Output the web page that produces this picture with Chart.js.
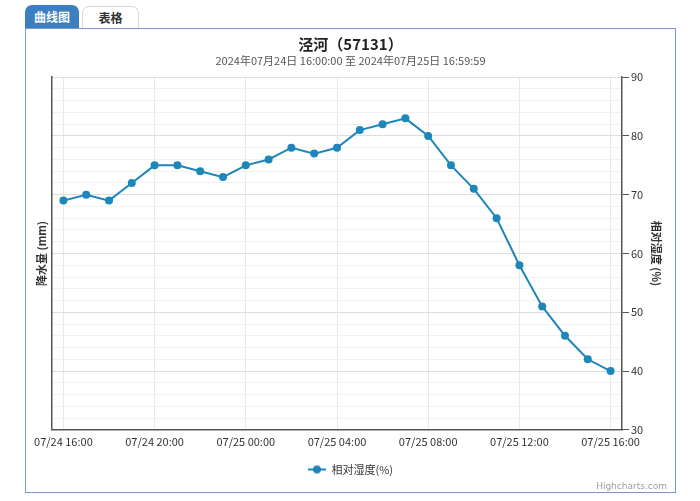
<!DOCTYPE html>
<html>
<head>
<meta charset="utf-8">
<script src="https://cdn.jsdelivr.net/npm/chart.js@4"></script>
<style>
body{margin:0;width:700px;height:501px;background:#fff;font-family:"Noto Sans CJK SC","Noto Sans",sans-serif;position:relative;overflow:hidden}
.tab{position:absolute;box-sizing:border-box;font-size:12px;font-weight:bold;text-align:center;border-radius:7px 7px 0 0}
#tab1{left:25px;top:5px;width:54px;height:24px;line-height:24px;background:#3b7fc1;color:#fff}
#tab2{left:82px;top:6px;width:57px;height:23px;line-height:22px;border:1px solid #d8d8d8;border-bottom:none;background:#fff;color:#333}
#panel{position:absolute;left:25px;top:28px;width:651px;height:465px;border:1px solid #7d97c6;box-sizing:border-box;background:#fff}
#wrap{position:absolute;left:0;top:0;width:649px;height:463px}
#credit{position:absolute;right:8px;bottom:1px;font-size:9px;color:#a0a0a0;font-family:"DejaVu Sans",sans-serif}
</style>
</head>
<body>
<div class="tab" id="tab1">曲线图</div>
<div class="tab" id="tab2">表格</div>
<div id="panel">
  <div id="wrap"><canvas id="humChart"></canvas></div>
  <div id="credit">Highcharts.com</div>
</div>
<script>
// 时间 (每小时)
const categories = [
  '07/24 16:00', '07/24 17:00', '07/24 18:00', '07/24 19:00', '07/24 20:00',
  '07/24 21:00', '07/24 22:00', '07/24 23:00', '07/25 00:00', '07/25 01:00',
  '07/25 02:00', '07/25 03:00', '07/25 04:00', '07/25 05:00', '07/25 06:00',
  '07/25 07:00', '07/25 08:00', '07/25 09:00', '07/25 10:00', '07/25 11:00',
  '07/25 12:00', '07/25 13:00', '07/25 14:00', '07/25 15:00', '07/25 16:00'
];
// 相对湿度 (%)
const humidity = [69, 70, 69, 72, 75, 75, 74, 73, 75, 76, 78, 77, 78, 81, 82, 83, 80, 75, 71, 66, 58, 51, 46, 42, 40];
const xTickLabels = ['07/24 16:00', '07/24 20:00', '07/25 00:00', '07/25 04:00', '07/25 08:00', '07/25 12:00', '07/25 16:00'];
const yTickLabels = [30, 40, 50, 60, 70, 80, 90];

const FONT = '"Noto Sans CJK SC", "Noto Sans", sans-serif';
const LINE = '#1d86ba';

// 图例图标: 线 + 圆点
const icon = document.createElement('canvas');
icon.width = 18; icon.height = 10;
const ic = icon.getContext('2d');
ic.strokeStyle = LINE; ic.lineWidth = 2;
ic.beginPath(); ic.moveTo(0, 5); ic.lineTo(18, 5); ic.stroke();
ic.fillStyle = LINE;
ic.beginPath(); ic.arc(9, 5, 4, 0, Math.PI * 2); ic.fill();

document.addEventListener('DOMContentLoaded', function() {
    const ctx = document.getElementById('humChart').getContext('2d');
    new Chart(ctx, {
        type: 'line',
        data: {
            labels: categories,
            datasets: [{
                label: '相对湿度(%)',
                data: humidity,
                yAxisID: 'y',
                borderColor: LINE,
                backgroundColor: LINE,
                borderWidth: 2,
                pointRadius: 4,
                pointBorderWidth: 0,
                tension: 0
            }]
        },
        options: {
            responsive: true,
            maintainAspectRatio: false,
            animation: false,
            layout: { padding: { left: 0, right: 0, top: 0, bottom: 7 } },
            plugins: {
                title: {
                    display: true,
                    text: '泾河（57131）',
                    color: '#222',
                    font: { family: FONT, size: 15, weight: 'bold' },
                    padding: { top: 6, bottom: 0 }
                },
                subtitle: {
                    display: true,
                    text: '2024年07月24日 16:00:00 至 2024年07月25日 16:59:59',
                    color: '#555',
                    font: { family: FONT, size: 11 },
                    padding: { top: 1, bottom: 10 }
                },
                legend: {
                    position: 'bottom',
                    labels: {
                        usePointStyle: true,
                        pointStyle: icon,
                        pointStyleWidth: 18,
                        boxHeight: 10,
                        color: '#333',
                        font: { family: FONT, size: 11 },
                        padding: 11
                    }
                }
            },
            scales: {
                x: {
                    type: 'category',
                    offset: true,
                    grid: {
                        offset: false,
                        drawTicks: false,
                        color: c => (c.index % 4 === 0 ? '#e8e8e8' : 'transparent')
                    },
                    border: { color: '#555', width: 1.5 },
                    ticks: {
                        autoSkip: false,
                        maxRotation: 0,
                        padding: 5,
                        color: '#333',
                        font: { family: FONT, size: 11 },
                        callback: function(v, i) {
                            const lab = categories[i];
                            return xTickLabels.includes(lab) ? lab : '';
                        }
                    }
                },
                yLeft: {
                    type: 'linear',
                    position: 'left',
                    min: 0,
                    max: 1,
                    ticks: { display: false },
                    grid: { drawOnChartArea: false, drawTicks: false },
                    border: { color: '#555', width: 1.5 },
                    title: {
                        display: true,
                        text: '降水量 (mm)',
                        color: '#333',
                        font: { family: FONT, size: 11, weight: 'bold' },
                        padding: { top: 9.4, bottom: 0 }
                    },
                    afterFit: s => { s.width = 26; }
                },
                y: {
                    type: 'linear',
                    position: 'right',
                    min: 30,
                    max: 90,
                    ticks: {
                        stepSize: 2,
                        autoSkip: false,
                        padding: 2,
                        color: '#333',
                        font: { family: FONT, size: 11 },
                        callback: v => (yTickLabels.includes(v) ? v : '')
                    },
                    grid: {
                        tickLength: 7,
                        color: c => (c.tick && yTickLabels.includes(c.tick.value) ? '#dedede' : '#f1f1f1'),
                        tickColor: c => (c.tick && yTickLabels.includes(c.tick.value) ? '#555' : 'transparent')
                    },
                    border: { color: '#555', width: 1.5 },
                    title: {
                        display: true,
                        text: '相对湿度 (%)',
                        color: '#333',
                        font: { family: FONT, size: 11, weight: 'bold' },
                        padding: { top: 12.4, bottom: 0 }
                    },
                    afterFit: s => { s.width = 53; }
                }
            }
        }
    });
});
</script>
</body>
</html>
